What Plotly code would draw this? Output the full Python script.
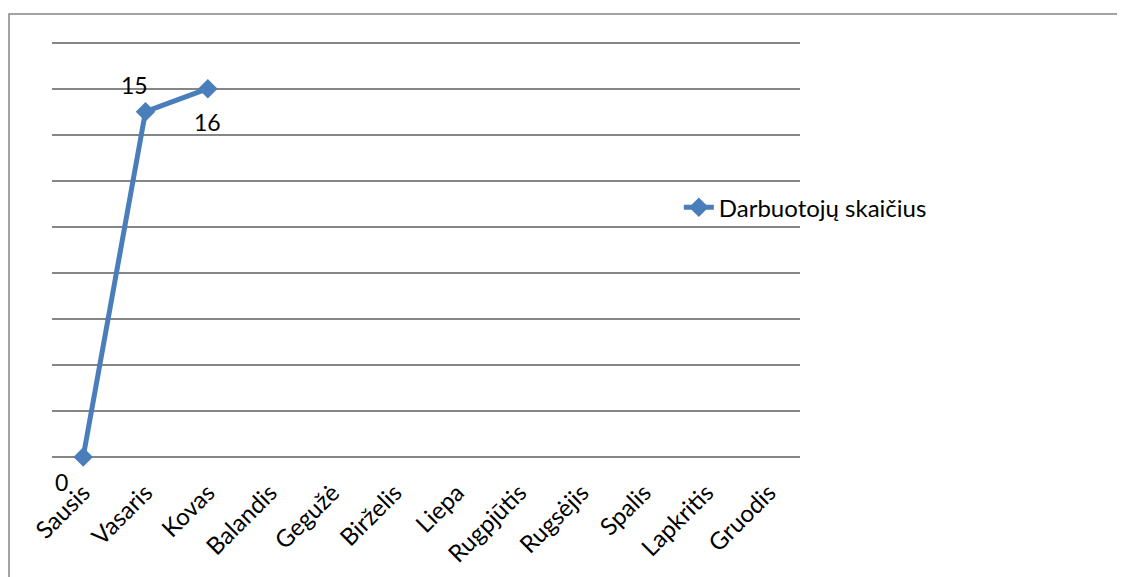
import plotly.graph_objects as go

months = ["Sausis", "Vasaris", "Kovas", "Balandis", "Gegužė", "Birželis",
          "Liepa", "Rugpjūtis", "Rugsėjis", "Spalis", "Lapkritis", "Gruodis"]
series_name = "Darbuotojų skaičius"
series_months = ["Sausis", "Vasaris", "Kovas"]
series_values = [0, 15, 16]
label_shifts = [(-22, -25), (-11, 27), (0, -33)]
grid_values = [0, 2, 4, 6, 8, 10, 12, 14, 16, 18]

blue = "#4A7EBB"
grid = "#868686"
font_family = "Lato, 'Open Sans', sans-serif"

fig = go.Figure()
fig.add_trace(go.Scatter(
    x=series_months, y=series_values, name=series_name,
    mode="lines+markers",
    line=dict(color=blue, width=5),
    marker=dict(symbol="diamond", size=15, color=blue),
    cliponaxis=False,
))

for m, v, (dx, dy) in zip(series_months, series_values, label_shifts):
    fig.add_annotation(x=m, y=v, text=str(v), showarrow=False,
                       xshift=dx, yshift=dy,
                       font=dict(size=23, color="black", family=font_family))

fig.update_layout(
    width=1117, height=569,
    margin=dict(l=44, r=325, t=30, b=120, autoexpand=False),
    paper_bgcolor="white", plot_bgcolor="white",
    font=dict(family=font_family, size=21, color="black"),
    showlegend=True,
    legend=dict(x=0.838, y=0.595, xanchor="left", yanchor="middle",
                font=dict(size=24), bgcolor="rgba(0,0,0,0)"),
    xaxis=dict(type="category", categoryorder="array", categoryarray=months,
               range=[-0.5, 11.5], tickangle=-45, showgrid=False,
               showline=False, ticks="", tickfont=dict(size=24),
               ticklabelstandoff=16, automargin=False),
    yaxis=dict(range=[0, 18.2], tickvals=grid_values,
               showgrid=True, gridcolor=grid,
               gridwidth=1.5, showticklabels=False, zeroline=True,
               zerolinecolor=grid, zerolinewidth=1.5, showline=False, ticks="",
               automargin=False),
)

fig.add_shape(type="rect", xref="paper", yref="paper",
              x0=-43 / 748, x1=1140 / 748, y0=-150 / 419, y1=1 + 24 / 419,
              line=dict(color="#868686", width=1.5), fillcolor="rgba(0,0,0,0)",
              layer="below")

fig.write_html("out.html")
